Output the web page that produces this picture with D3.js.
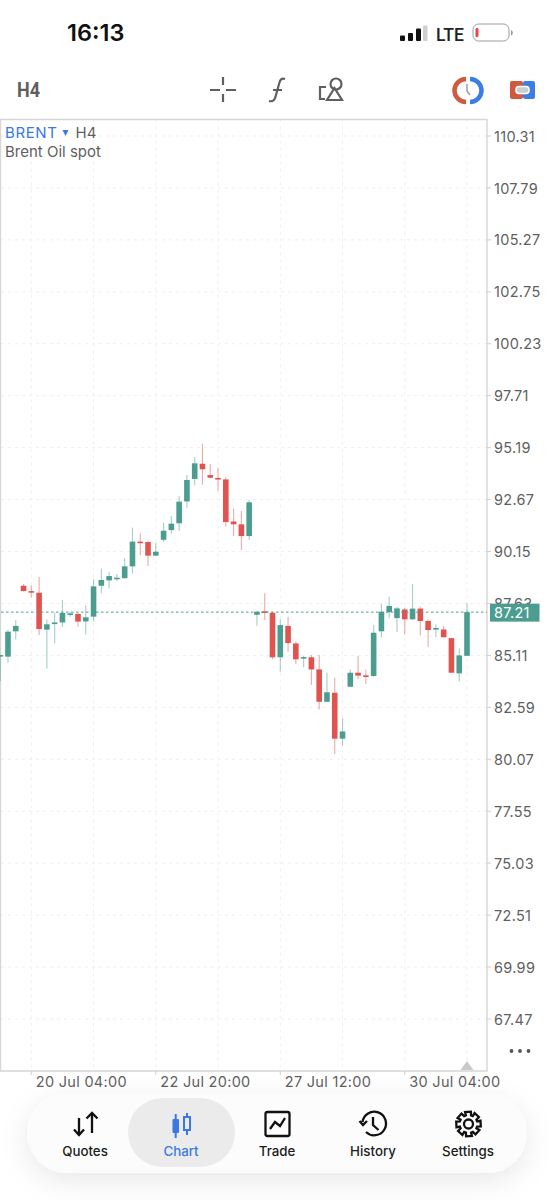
<!DOCTYPE html>
<html><head><meta charset="utf-8">
<script src="https://cdn.jsdelivr.net/npm/d3@7"></script>
<style>html,body{margin:0;padding:0;background:#fff;overflow:hidden}svg{display:block}text{font-family:Inter,"Liberation Sans",Arial,sans-serif}</style>
</head><body><svg id="c" width="555" height="1200"></svg>
<script>
const opens =[85.05,85.05,86.28,88.49,88.23,88.15,86.36,86.63,86.71,87.12,87.12,86.76,86.99,88.49,88.75,88.85,88.86,89.43,90.63,90.61,89.95,90.72,91.19,91.52,92.58,93.67,94.41,93.86,93.72,93.65,91.61,91.47,90.90,87.08,87.25,87.18,85.02,86.54,85.69,84.97,85.02,84.43,82.86,83.30,81.07,83.59,84.27,84.14,84.11,86.28,87.21,86.92,87.34,86.86,87.38,86.78,86.37,86.37,85.95,84.24,85.09];
const highs =[85.13,86.34,86.83,88.57,88.52,88.91,86.86,87.18,87.80,87.23,87.18,87.54,88.80,89.33,89.17,89.06,89.82,91.31,91.03,90.68,90.58,91.55,91.87,92.84,93.86,94.72,95.38,94.38,94.22,93.75,92.24,92.12,92.65,87.23,88.12,87.23,86.87,86.99,85.78,85.08,85.13,85.13,84.27,84.03,82.06,84.43,85.08,84.43,86.58,87.60,87.96,87.47,87.42,88.57,87.47,86.86,86.62,86.55,85.95,85.44,87.64];
const lows  =[83.87,84.77,85.90,88.22,87.93,86.10,84.48,85.69,86.50,86.99,86.50,86.13,86.75,88.12,88.36,88.72,88.83,89.09,89.98,89.45,89.93,90.63,91.02,91.14,92.28,93.36,93.39,93.70,93.10,91.36,90.90,90.22,90.71,86.55,86.83,84.92,84.32,85.29,84.69,84.53,83.67,82.49,82.86,80.32,80.75,83.59,83.95,83.72,84.08,85.99,86.91,86.24,86.13,86.83,86.08,85.53,85.99,85.99,84.27,83.85,85.09];
const closes=[85.13,86.26,86.54,88.23,88.20,86.39,86.62,86.71,87.17,87.15,86.75,86.96,88.46,88.77,88.96,88.88,89.43,90.63,90.58,89.95,90.14,91.16,91.50,92.57,93.62,94.43,94.14,93.73,93.67,91.58,91.47,90.90,92.54,87.23,87.17,85.02,86.58,85.71,84.92,85.03,84.43,82.86,83.32,81.07,81.42,84.27,84.13,84.11,86.21,87.23,87.51,87.39,86.86,87.38,86.78,86.34,86.44,85.99,84.27,85.11,87.21];
const priceTicks=["110.31","107.79","105.27","102.75","100.23","97.71","95.19","92.67","90.15","87.63","85.11","82.59","80.07","77.55","75.03","72.51","69.99","67.47"];
const gridIndex=[4,12,20,28,36,44,52,60];
const timeTickIndex=[4,20,36,52];
const timeLabels=["20 Jul 04:00","22 Jul 20:00","27 Jul 12:00","30 Jul 04:00"];
const lastPrice=87.21;
const navLabels=["Quotes","Chart","Trade","History","Settings"];

const GREEN="#4b9e8f",RED="#e0534f",GRID="#efefef",FRAME="#d6d6d6",TXT="#5f5f5f",BLUE="#3b78e3";
const svg=d3.select("#c");
const x=d3.scaleLinear().domain([0,60]).range([0.2,467]);
const y=d3.scaleLinear().domain([110.31,67.47]).range([136,1019]);
const L=487,T=119.5,B=1071;

// status bar
svg.append("text").attr("x",67).attr("y",41).attr("font-size",23.5).attr("font-weight",600).attr("fill","#111").text("16:13");
[[400,5,35.5],[408,5,33],[416,5,28.5],[423,4.5,25.5]].forEach((d,i)=>svg.append("rect").attr("x",d[0]).attr("y",d[2]).attr("width",d[1]).attr("height",41-d[2]).attr("rx",1).attr("fill",i==3?"#cfcfcf":"#111"));
svg.append("text").attr("x",436).attr("y",41).attr("font-size",18).attr("font-weight",500).attr("fill","#222").style("font-family","Roboto").attr("textLength",28).attr("lengthAdjust","spacingAndGlyphs").text("LTE");
svg.append("rect").attr("x",473).attr("y",24).attr("width",36).attr("height",17).attr("rx",5.5).attr("fill","none").attr("stroke","#9a9a9a").attr("stroke-width",1);
svg.append("rect").attr("x",475.5).attr("y",28).attr("width",3).attr("height",9).attr("rx",1).attr("fill","#e5484d");
svg.append("path").attr("d","M511 30a3 3 0 0 1 0 5.5").attr("fill","#999");

// toolbar
svg.append("text").attr("x",17).attr("y",97).attr("font-size",21).attr("font-weight",700).attr("fill",TXT).style("font-family","Roboto").attr("textLength",23).attr("lengthAdjust","spacingAndGlyphs").text("H4");
const ico=svg.append("g").attr("fill","none").attr("stroke","#5f5f5f").attr("stroke-width",2.2);
ico.append("path").attr("d","M210 90h10M226 90h10M223 77v8M223 94v8");
ico.append("path").attr("d","M269 101c4 1 6-1 7-6l3-11c1-5 3-6 6-5M273 90h9");
ico.append("path").attr("d","M326 87h-6v12h5");
ico.append("circle").attr("cx",336).attr("cy",84).attr("r",5.5);
ico.append("path").attr("d","M327 100h15l-7.500-12z");
const clock=svg.append("g");
clock.append("path").attr("d","M466 79a11.5 11.5 0 0 0 0 23").attr("fill","none").attr("stroke","#cf5a3f").attr("stroke-width",4.5);
clock.append("path").attr("d","M470 79a11.5 11.5 0 0 1 0 23").attr("fill","none").attr("stroke","#3b7fe6").attr("stroke-width",4.5);
clock.append("path").attr("d","M467 84v7l3 4").attr("fill","none").attr("stroke","#9aa0a6").attr("stroke-width",1.5);
svg.append("rect").attr("x",510).attr("y",81).attr("width",13).attr("height",18).attr("rx",2).attr("fill","#cf5a3f");
svg.append("rect").attr("x",523).attr("y",81).attr("width",12).attr("height",18).attr("rx",2).attr("fill","#3b7fe6");
svg.append("rect").attr("x",516).attr("y",86.5).attr("width",13).attr("height",7).attr("rx",3).attr("fill","#c9ced4").attr("stroke","#fff").attr("stroke-width",1.5);

// grid
const grid=svg.append("g").attr("stroke",GRID).attr("stroke-width",1).attr("stroke-dasharray","3 4");
grid.selectAll(".h").data(priceTicks).join("line").attr("x1",1).attr("x2",L).attr("y1",d=>y(+d)).attr("y2",d=>y(+d));
grid.selectAll(".v").data(gridIndex).join("line").attr("x1",d=>x(d)).attr("x2",d=>x(d)).attr("y1",T).attr("y2",B);

// frame
svg.append("path").attr("d",`M0.5 ${T}H${L}V${B}H0.5Z`).attr("fill","none").attr("stroke",FRAME).attr("stroke-width",1.4);

// price labels & ticks
svg.append("g").selectAll("line").data(priceTicks).join("line").attr("x1",L).attr("x2",L+4).attr("y1",d=>y(+d)).attr("y2",d=>y(+d)).attr("stroke","#cfcfcf");
svg.append("g").selectAll("text").data(priceTicks).join("text").attr("x",494).attr("y",d=>y(+d)+5.6).attr("font-size",14.5).attr("letter-spacing",0.3).attr("fill",TXT).text(d=>d);

// time axis
svg.append("g").selectAll("line").data(timeTickIndex).join("line").attr("x1",d=>x(d)).attr("x2",d=>x(d)).attr("y1",B).attr("y2",B+4).attr("stroke","#cfcfcf");
svg.append("g").selectAll("text").data(timeTickIndex).join("text").attr("x",d=>x(d)+4.5).attr("y",1087).attr("font-size",14.5).attr("letter-spacing",0.3).attr("fill",TXT).text((d,i)=>timeLabels[i]);

// candles
const idx=d3.range(opens.length);
const col=i=>closes[i]>=opens[i]?GREEN:RED;
const clipG=svg.append("g");
clipG.selectAll(".w").data(idx).join("line").attr("x1",i=>x(i)).attr("x2",i=>x(i)).attr("y1",i=>y(highs[i])).attr("y2",i=>y(lows[i])).attr("stroke",col).attr("stroke-opacity",0.5).attr("stroke-width",1.1);
clipG.selectAll(".b").data(idx).join("rect").attr("x",i=>x(i)-2.8).attr("width",5.6)
 .attr("y",i=>y(Math.max(opens[i],closes[i]))).attr("height",i=>Math.max(1.6,Math.abs(y(opens[i])-y(closes[i])))).attr("fill",col);

// last price
svg.append("line").attr("x1",1).attr("x2",L).attr("y1",y(lastPrice)).attr("y2",y(lastPrice)).attr("stroke",GREEN).attr("stroke-width",1).attr("stroke-dasharray","2.5 2.5");
svg.append("rect").attr("x",490).attr("y",y(lastPrice)-8.5).attr("width",49.5).attr("height",18).attr("fill",GREEN);
svg.append("text").attr("x",494).attr("y",y(lastPrice)+5.6).attr("font-size",14.5).attr("letter-spacing",0.3).attr("fill","#fff").text(lastPrice.toFixed(2));

// legend text
svg.append("text").attr("x",5).attr("y",137.5).attr("font-size",15).attr("letter-spacing",0.6).attr("fill",BLUE).text("BRENT");
svg.append("path").attr("d","M62.5 130h6l-3 6z").attr("fill",BLUE);
svg.append("text").attr("x",75.5).attr("y",137.5).attr("font-size",15).attr("fill",TXT).text("H4");
svg.append("text").attr("x",5).attr("y",156.5).attr("font-size",15).attr("fill",TXT).text("Brent Oil spot");

// dots & triangle
svg.append("g").selectAll("circle").data([0,1,2]).join("circle").attr("cx",d=>511.5+d*8.5).attr("cy",1051).attr("r",1.9).attr("fill","#555");
svg.append("path").attr("d",`M${x(60)-6.5} ${B-1}L${x(60)} 1061L${x(60)+6.5} ${B-1}Z`).attr("fill","#c9c9c9");

// nav
const defs=svg.append("defs");
const f=defs.append("filter").attr("id","s").attr("x","-20%").attr("y","-60%").attr("width","140%").attr("height","220%");
f.append("feDropShadow").attr("dx",0).attr("dy",8).attr("stdDeviation",14).attr("flood-color","#000").attr("flood-opacity",0.09);
svg.append("rect").attr("x",27).attr("y",1093).attr("width",500).attr("height",80).attr("rx",40).attr("fill","#fcfcfc").attr("filter","url(#s)");
svg.append("rect").attr("x",128).attr("y",1098).attr("width",107).attr("height",69).attr("rx",34.5).attr("fill","#ebebeb");
const navX=[85,181,277,373,468];
svg.append("g").selectAll("text").data(navLabels).join("text").attr("x",(d,i)=>navX[i]).attr("y",1156).attr("text-anchor","middle").attr("font-size",13.3).attr("font-weight",500).attr("fill",(d,i)=>i==1?BLUE:"#1c1c1c").text(d=>d);
const n=svg.append("g").attr("fill","none").attr("stroke","#111").attr("stroke-width",2.3);
n.append("path").attr("d","M79 1118v17M74 1129.5l5 5.5 5-5.5M92 1133v-20M86.5 1118.500l5.500-5.500 5.500 5.500");
const cb=svg.append("g");
cb.append("rect").attr("x",172.500).attr("y",1119).attr("width",6.500).attr("height",14).attr("rx",1).attr("fill",BLUE);
cb.append("path").attr("d","M175.700 1114v24M187 1113v22").attr("stroke",BLUE).attr("stroke-width",2);
cb.append("rect").attr("x",184).attr("y",1117).attr("width",6).attr("height",13).attr("fill","#ebebeb").attr("stroke",BLUE).attr("stroke-width",2);
n.append("rect").attr("x",265.500).attr("y",1112).attr("width",24).attr("height",24).attr("rx",2);
n.append("path").attr("d","M270 1129l5-7 5 4 5-8");
n.append("path").attr("d","M362.500 1122a11.800 11.800 0 1 1 3.500 10M359.500 1121l3.500 4 4-4M373 1117v8l5.500 5");
const cx=468.500,cy=1124;
n.append("circle").attr("cx",cx).attr("cy",cy).attr("r",4.500);
n.append("path").attr("d",d3.range(8).map(i=>{const a=i*Math.PI/4-Math.PI/8,b=a+Math.PI/4,r1=12.500,r2=9;const p=(an,r)=>[cx+r*Math.cos(an),cy+r*Math.sin(an)].map(v=>v.toFixed(1)).join(" ");return (i?"L":"M")+p(a+.12,r1)+"L"+p(b-.2,r1)+"L"+p(b-.1,r2)+"L"+p(b+.1,r2);}).join("")+"Z");
</script></body></html>
